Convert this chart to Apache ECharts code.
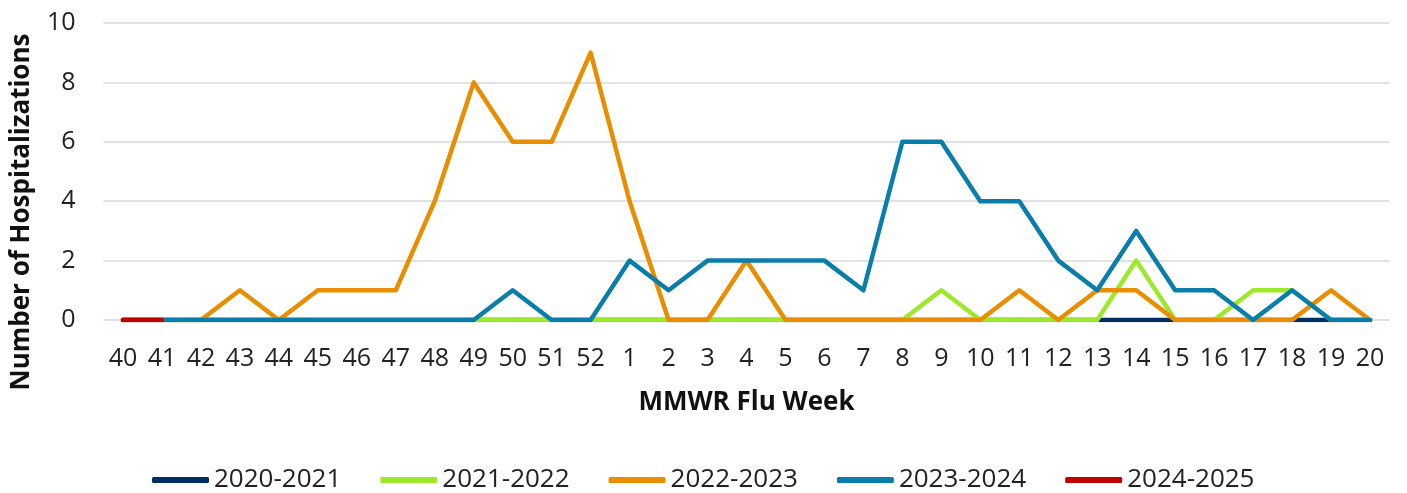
<!DOCTYPE html>
<html>
<head>
<meta charset="utf-8">
<script src="https://cdn.jsdelivr.net/npm/echarts@6/dist/echarts.min.js"></script>
<style>
html, body { margin: 0; padding: 0; background: #fff; }
#chart { width: 1407px; height: 493px; }
</style>
</head>
<body>
<div id="chart"></div>
<script>
// MMWR flu weeks 40..52, 1..20
const weeks = ['40', '41', '42', '43', '44', '45', '46', '47', '48', '49', '50', '51', '52',
  '1', '2', '3', '4', '5', '6', '7', '8', '9', '10', '11', '12', '13', '14', '15', '16', '17', '18', '19', '20'];

const s2020 = [0, 0, 0, 0, 0, 0, 0, 0, 0, 0, 0, 0, 0,
  0, 0, 0, 0, 0, 0, 0, 0, 0, 0, 0, 0, 0, 0, 0, 0, 0, 0, 0, 0];
const s2021 = [0, 0, 0, 0, 0, 0, 0, 0, 0, 0, 0, 0, 0,
  0, 0, 0, 0, 0, 0, 0, 0, 1, 0, 0, 0, 0, 2, 0, 0, 1, 1, 0, 0];
const s2022 = [0, 0, 0, 1, 0, 1, 1, 1, 4, 8, 6, 6, 9,
  4, 0, 0, 2, 0, 0, 0, 0, 0, 0, 1, 0, 1, 1, 0, 0, 0, 0, 1, 0];
const s2023 = [0, 0, 0, 0, 0, 0, 0, 0, 0, 0, 1, 0, 0,
  2, 1, 2, 2, 2, 2, 1, 6, 6, 4, 4, 2, 1, 3, 1, 1, 0, 1, 0, 0];
const s2024 = [0, 0];

const seasons = ['2020-2021', '2021-2022', '2022-2023', '2023-2024', '2024-2025'];
const colors = ['#002D62', '#9DE82B', '#E88E00', '#0A7EAB', '#C00000'];
const seriesData = [s2020, s2021, s2022, s2023, s2024];

const myChart = echarts.init(document.getElementById('chart'));
const font = '"Open Sans", sans-serif';

const option = {
  color: colors,
  animation: false,
  textStyle: { fontFamily: font },
  grid: { left: 103.5, right: 17.5, top: 23, bottom: 173, outerBoundsMode: 'none' },
  graphic: [{
    type: 'text',
    x: 22,
    y: 212,
    rotation: Math.PI / 2,
    style: {
      text: 'Number of Hospitalizations',
      fontSize: 26,
      fontWeight: 'bold',
      fontFamily: font,
      fill: '#111',
      align: 'center',
      verticalAlign: 'middle'
    }
  }],
  legend: {
    top: 462,
    left: 147,
    icon: 'roundRect',
    itemWidth: 57,
    itemHeight: 6,
    itemGap: 39,
    textStyle: { fontSize: 26, color: '#222', fontFamily: font },
    data: seasons
  },
  xAxis: {
    type: 'category',
    boundaryGap: true,
    data: weeks,
    name: 'MMWR Flu Week',
    nameLocation: 'middle',
    nameGap: 70,
    nameTextStyle: { fontSize: 26, fontWeight: 'bold', color: '#111', fontFamily: font },
    axisLine: { show: false },
    axisTick: { show: false },
    axisLabel: { fontSize: 25, color: '#222', margin: 26, interval: 0, fontFamily: font }
  },
  yAxis: {
    type: 'value',
    min: 0,
    max: 10,
    interval: 2,
    axisLine: { show: false },
    axisTick: { show: false },
    axisLabel: { fontSize: 25, color: '#222', margin: 28, fontFamily: font },
    splitLine: { lineStyle: { color: '#d9d9d9', width: 1.5 } }
  },
  series: seasons.map((name, i) => ({
    name: name,
    type: 'line',
    data: seriesData[i],
    showSymbol: false,
    symbol: 'none',
    lineStyle: { width: 4.5, color: colors[i], cap: 'round', join: 'round' }
  }))
};
myChart.setOption(option);
</script>
</body>
</html>
